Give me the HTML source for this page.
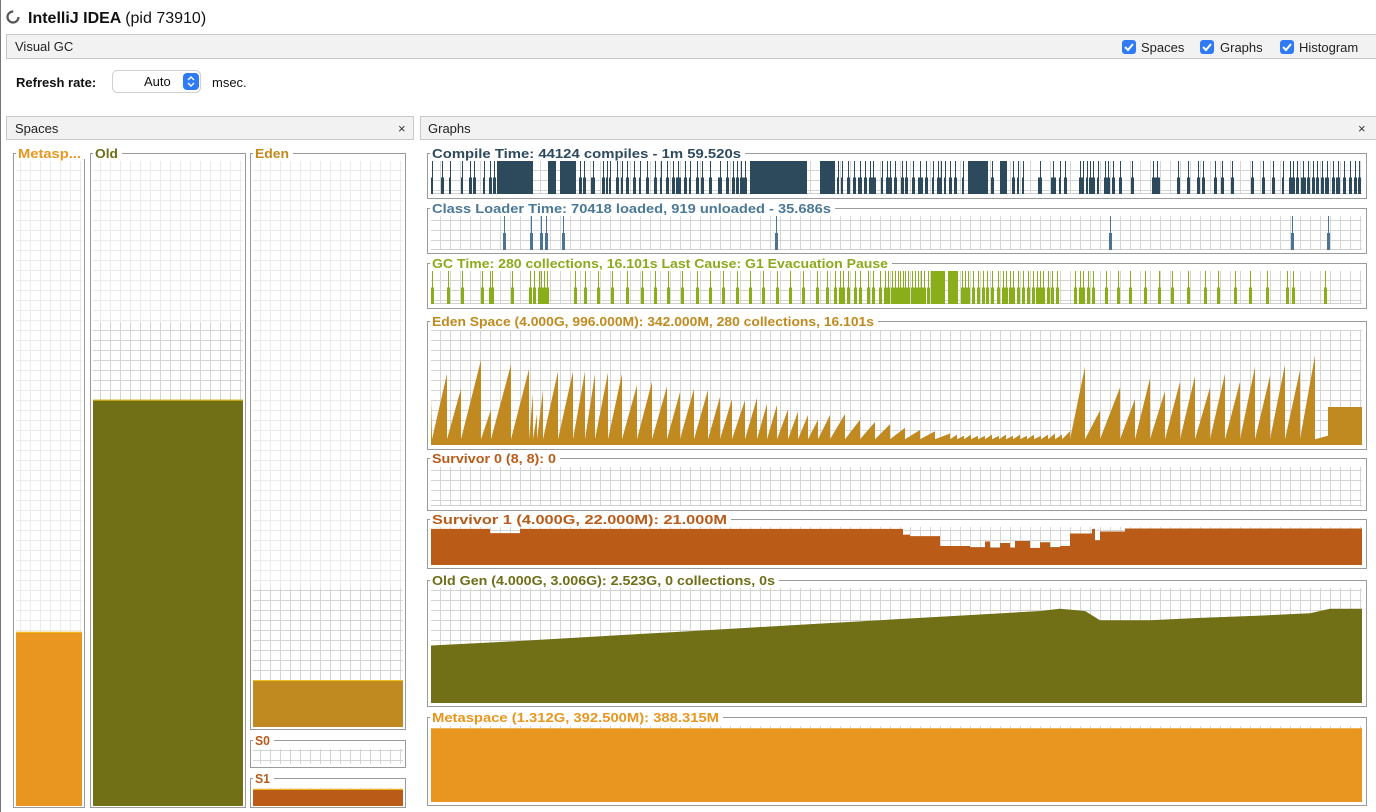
<!DOCTYPE html>
<html><head><meta charset="utf-8"><title>Visual GC</title>
<style>
html,body{margin:0;padding:0;background:#fff;width:1376px;height:812px;overflow:hidden}
svg{display:block}
text{font-family:"Liberation Sans",sans-serif}
</style></head>
<body>
<svg id="root" width="1376" height="812" viewBox="0 0 1376 812" xmlns="http://www.w3.org/2000/svg">
<defs>
<pattern id="grid" width="10" height="10" patternUnits="userSpaceOnUse" x="1" y="1">
<rect width="10" height="10" fill="#fff"/><rect x="9" y="0" width="1" height="10" fill="#d4d4d4"/><rect x="0" y="9" width="10" height="1" fill="#d4d4d4"/>
</pattern>
<pattern id="gridf" width="10" height="10" patternUnits="userSpaceOnUse" x="1" y="1">
<rect width="10" height="10" fill="#fff"/><rect x="9" y="0" width="1" height="10" fill="#ebebeb"/><rect x="0" y="9" width="10" height="1" fill="#ebebeb"/>
</pattern>
</defs>
<line x1="0.5" y1="0" x2="0.5" y2="812" stroke="#777"/>
<g>
<circle cx="13" cy="17" r="5.5" fill="none" stroke="#555" stroke-width="2.2" stroke-dasharray="26 9"/>
<text x="28" y="23" font-size="16" font-weight="bold" fill="#111">IntelliJ IDEA <tspan font-weight="normal">(pid 73910)</tspan></text>
</g>
<g>
<rect x="6.5" y="34.5" width="1370" height="24" fill="#f2f2f2" stroke="#c9c9c9"/>
<text x="15" y="51" font-size="13" fill="#222">Visual GC</text>
</g>
<g><rect x="1122" y="40" width="14" height="14" rx="3" fill="#2f7bf5"/><path d="M1125 47l3 3 5-6" stroke="#fff" stroke-width="2" fill="none"/><text x="1141" y="52" font-size="13" fill="#222">Spaces</text></g>
<g><rect x="1200" y="40" width="14" height="14" rx="3" fill="#2f7bf5"/><path d="M1203 47l3 3 5-6" stroke="#fff" stroke-width="2" fill="none"/><text x="1220" y="52" font-size="13" fill="#222">Graphs</text></g>
<g><rect x="1280" y="40" width="14" height="14" rx="3" fill="#2f7bf5"/><path d="M1283 47l3 3 5-6" stroke="#fff" stroke-width="2" fill="none"/><text x="1299" y="52" font-size="13" fill="#222">Histogram</text></g>
<text x="16" y="87" font-size="13" font-weight="bold" fill="#111">Refresh rate:</text>
<g>
<rect x="112.5" y="70.5" width="88" height="22" rx="5" fill="#fff" stroke="#d0d0d0"/>
<text x="144" y="86" font-size="13" fill="#111">Auto</text>
<rect x="183" y="73" width="16" height="17" rx="4" fill="#2f7bf5"/>
<path d="M188 80l3-3 3 3M188 83l3 3 3-3" stroke="#fff" stroke-width="1.4" fill="none"/>
</g>
<text x="212" y="87" font-size="13" fill="#111">msec.</text>
<g>
<rect x="6.5" y="116.5" width="407" height="23" fill="#f2f2f2" stroke="#c9c9c9"/>
<text x="15" y="133" font-size="13" fill="#222">Spaces</text>
<text x="398" y="133" font-size="13" fill="#333">×</text>
</g>
<g>
<rect x="420.5" y="116.5" width="956" height="23" fill="#f2f2f2" stroke="#c9c9c9"/>
<text x="428" y="133" font-size="13" fill="#222">Graphs</text>
<text x="1358" y="133" font-size="13" fill="#333">×</text>
</g>
<g id="panels"></g>
</svg>
<script>
// ---- data (x values are timeline samples in px-units along the graph, values are 0..1 fractions) ----
const compileX = [432,442,450,462,470,474,484,490,494,497,548,560,580,584,593,603,607,610,617,622,627,634,640,647,655,661,667,673,678,685,690,697,702,710,720,727,733,737,741,745,750,770,820,838,842,848,854,860,865,870,873,882,887,890,895,902,906,913,920,926,933,938,941,945,950,955,963,968,978,992,1000,1013,1018,1023,1040,1053,1060,1065,1080,1083,1087,1090,1093,1098,1105,1108,1113,1120,1132,1153,1157,1178,1188,1198,1203,1215,1222,1232,1252,1263,1273,1283,1290,1293,1297,1303,1308,1313,1317,1322,1327,1333,1338,1344,1350,1355,1359];
const compileW = [2,3,2,2,3,3,2,3,3,36,8,16,3,3,4,3,2,2,3,2,3,3,2,3,3,2,3,3,5,3,2,3,3,3,4,3,3,3,3,4,20,37,15,2,2,3,3,4,3,2,5,2,2,4,3,3,3,3,5,3,2,3,2,2,3,3,2,10,10,3,7,3,2,2,4,5,2,3,3,2,2,3,3,2,3,3,3,3,3,3,5,3,3,3,3,3,3,3,3,3,3,2,3,4,3,5,3,3,3,3,4,3,4,3,3,3,3];
const classX = [504,531,541,546,563,776,1110,1292,1328];
const gcX = [432,448,462,482,490,492,512,530,534,539,541,544,547,575,585,598,612,627,642,655,668,682,697,710,723,737,750,763,777,790,803,817,827,835,840,843,848,855,860,868,873,880,885,888,892,895,898,900,903,905,908,912,915,918,921,924,928,962,965,968,973,978,983,987,992,998,1003,1006,1010,1013,1018,1023,1028,1033,1037,1040,1043,1048,1052,1057,1075,1080,1083,1088,1093,1106,1118,1130,1145,1159,1172,1188,1205,1218,1235,1250,1267,1287,1293,1325];
const gcBlockStart = [931,948];
const gcBlockEnd = [945,958];
const edenEnd = [432,447,461,481,491,511,529,533,537,543,558,573,585,595,608,622,637,652,667,680,694,708,720,732,745,757,767,777,788,798,808,818,830,845,860,875,890,905,920,935,950,957,964,971,978,985,992,999,1006,1013,1020,1027,1034,1041,1048,1055,1062,1070,1085,1100,1120,1135,1150,1165,1180,1195,1210,1225,1240,1255,1270,1285,1300,1315,1328];
const edenPeak = [0.42,0.62,0.49,0.74,0.31,0.7,0.66,0.45,0.27,0.48,0.64,0.64,0.64,0.62,0.63,0.62,0.52,0.55,0.51,0.46,0.49,0.48,0.42,0.4,0.39,0.41,0.36,0.35,0.31,0.29,0.26,0.22,0.26,0.27,0.22,0.2,0.18,0.15,0.13,0.12,0.1,0.09,0.08,0.09,0.08,0.08,0.09,0.08,0.09,0.08,0.09,0.08,0.09,0.08,0.09,0.1,0.09,0.12,0.68,0.3,0.5,0.4,0.58,0.47,0.55,0.6,0.5,0.62,0.55,0.68,0.6,0.7,0.65,0.78,0.08];
const edenTailStart = 1328, edenTailValue = 0.33;
const s1X = [431,490,520,897,903,910,940,970,985,990,1000,1010,1015,1030,1040,1050,1060,1070,1092,1095,1100,1105,1125,1362];
const s1V = [0.95,0.84,0.95,0.95,0.8,0.76,0.5,0.47,0.62,0.46,0.58,0.46,0.63,0.45,0.6,0.47,0.5,0.83,0.95,0.65,0.88,0.88,0.96,0.96];
const oldX = [431,500,560,620,680,740,800,860,920,980,1040,1060,1085,1100,1150,1200,1260,1310,1330,1362];
const oldV = [0.5,0.53,0.56,0.59,0.62,0.65,0.68,0.71,0.74,0.77,0.8,0.82,0.8,0.72,0.72,0.74,0.76,0.78,0.82,0.82];
const metaGraphV = 0.97;
const spaceMetaUsed = 0.27, spaceOldUsed = 0.63, spaceOldCommitted = 0.75, spaceEdenUsed = 0.083, spaceEdenCommitted = 0.245, spaceS1Used = 0.95, spaceS0Used = 0;

const NS = "http://www.w3.org/2000/svg";
const root = document.getElementById('panels');
function mk(tag, attrs, parent){const e=document.createElementNS(NS,tag);for(const k in attrs)e.setAttribute(k,attrs[k]);(parent||root).appendChild(e);return e;}

function panel(name, title, color, bx, by, bw, bh, tw){
  const g = mk('g',{});
  
  
  mk('rect',{x:bx+0.5,y:by+0.5,width:bw,height:bh,fill:'#fff',stroke:'#9a9a9a'},g);
  mk('rect',{x:bx+3,y:by-6,width:tw+6,height:12,fill:'#fff'},g);
  const t = mk('text',{x:bx+5,y:by+5,'font-size':12.5,'font-weight':'bold',fill:color,textLength:tw,lengthAdjust:'spacingAndGlyphs'},g);
  t.textContent = title;
  
  
  return g;
}
function plotArea(g, x, y, w, h, pat){
  mk('rect',{x:x,y:y,width:w,height:h,fill:'url(#'+(pat||'grid')+')'},g);
  mk('rect',{x:x,y:y+h-1,width:w,height:1,fill:'#cfcfcf'},g);
}
function yScale(top,h){return v=>top+h-v*h;}

// Compile time
(function(){
  const g = panel('compile-time-graph','Compile Time: 44124 compiles - 1m 59.520s','#2e4a5e',427,153,939,45,309);
  const top=161,h=33; plotArea(g,431,top,931,h);
  const y=yScale(top,h);
  compileX.forEach((x,i)=>{
    const w=compileW[i];
    if(w>=6){const r=mk('rect',{x:x,y:y(1),width:w,height:h,fill:'#2d4a5c'},g);
      
      }
    else{
      const l=mk('rect',{x:x,y:y(1),width:1,height:h,fill:'#2d4a5c'},g);
      
      
      mk('rect',{x:x-Math.floor(w/2),y:y(0.5),width:w,height:h*0.5,fill:'#2d4a5c'},g);
    }
  });
})();
// Class loader
(function(){
  const g = panel('class-loader-graph','Class Loader Time: 70418 loaded, 919 unloaded - 35.686s','#4a7898',427,208,939,45,399);
  const top=216,h=34; plotArea(g,431,top,931,h);
  const y=yScale(top,h);
  classX.forEach(x=>{
    const l=mk('rect',{x:x,y:y(1),width:1,height:h,fill:'#4a7394'},g);
    
    
    mk('rect',{x:x-1,y:y(0.5),width:3,height:h*0.5,fill:'#4a7394'},g);
  });
})();
// GC time
(function(){
  const g = panel('gc-time-graph','GC Time: 280 collections, 16.101s  Last Cause: G1 Evacuation Pause','#8aaa1c',427,263,939,45,456);
  const top=271,h=33; plotArea(g,431,top,931,h);
  const y=yScale(top,h);
  gcX.forEach(x=>{
    const l=mk('rect',{x:x,y:y(1),width:1,height:h,fill:'#8aae1a'},g);
    
    
    mk('rect',{x:x-1,y:y(0.5),width:3,height:h*0.5,fill:'#8aae1a'},g);
  });
  gcBlockStart.forEach((s,i)=>{
    const r=mk('rect',{x:s,y:y(1),width:gcBlockEnd[i]-s,height:h,fill:'#8aae1a'},g);
    
    
  });
})();
// Eden
(function(){
  const g = panel('eden-space-graph','Eden Space (4.000G, 996.000M): 342.000M, 280 collections, 16.101s','#c08a1e',427,321,939,128,442);
  const top=330,h=115; plotArea(g,431,top,931,h);
  const y=yScale(top,h);
  let d='M431 '+y(0); let prev=431;
  edenEnd.forEach((e,i)=>{ d+=' L'+prev+' '+y(0.05)+' L'+e+' '+y(edenPeak[i])+' L'+e+' '+y(0.03); prev=e; });
  d+=' L'+edenTailStart+' '+y(edenTailValue)+' L1362 '+y(edenTailValue)+' L1362 '+y(0)+' Z';
  const p=mk('path',{d:d,fill:'#c18a20'},g);
  
  
})();
// Survivor 0
(function(){
  const g = panel('survivor-0-graph','Survivor 0 (8, 8): 0','#b85a18',427,458,939,52,124);
  plotArea(g,431,467,931,39);
})();
// Survivor 1
(function(){
  const g = panel('survivor-1-graph','Survivor 1 (4.000G, 22.000M): 21.000M','#b85a18',427,519,939,49,295);
  const top=527,h=38; plotArea(g,431,top,931,h);
  const y=yScale(top,h);
  let d='M431 '+y(0);
  s1X.forEach((x,i)=>{ if(i>0) d+=' L'+x+' '+y(s1V[i-1]); d+=' L'+x+' '+y(s1V[i]); });
  d+=' L1362 '+y(0)+' Z';
  const p=mk('path',{d:d,fill:'#ba5b17'},g);
  
  
})();
// Old gen
(function(){
  const g = panel('old-gen-graph','Old Gen (4.000G, 3.006G): 2.523G, 0 collections, 0s','#6e6e18',427,580,939,126,343);
  const top=588,h=115; plotArea(g,431,top,931,h);
  const y=yScale(top,h);
  let d='M431 '+y(0);
  oldX.forEach((x,i)=>{ d+=' L'+x+' '+y(oldV[i]); });
  d+=' L1362 '+y(0)+' Z';
  const p=mk('path',{d:d,fill:'#717016'},g);
  
  
})();
// Metaspace graph
(function(){
  const g = panel('metaspace-graph','Metaspace (1.312G, 392.500M): 388.315M','#e8961e',427,717,939,88,287);
  const top=726,h=76; plotArea(g,431,top,931,h);
  const y=yScale(top,h);
  const r=mk('rect',{x:431,y:y(metaGraphV),width:931,height:metaGraphV*h,fill:'#e99621'},g);
  
  
})();

// Spaces bars
function spaceBar(name,title,color,fill,bx,by,bw,bh,tw,px,py,pw,ph,used,committed){
  const g = panel(name,title,color,bx,by,bw,bh,tw);
  const cy = py+ph-committed*ph;
  mk('rect',{x:px,y:py,width:pw,height:ph,fill:'url(#gridf)'},g);
  if(committed>0) mk('rect',{x:px,y:cy,width:pw,height:ph-(cy-py),fill:'url(#grid)'},g);
  if(used>0){
    const r=mk('rect',{x:px,y:py+ph-used*ph,width:pw,height:used*ph,fill:fill},g);
    
    
    mk('rect',{x:px,y:py+ph-used*ph,width:pw,height:1,fill:'#f0c020'},g);
  }
}
spaceBar('metaspace-space','Metasp...','#e8961e','#e99621',13,153,71,654,63,16,161,66,645,spaceMetaUsed,0);
spaceBar('old-space','Old','#6e6e18','#717016',90,153,155,654,23,93,161,150,645,spaceOldUsed,spaceOldCommitted);
spaceBar('eden-space','Eden','#c08a1e','#c18a20',250,153,155,576,34,253,161,150,566,spaceEdenUsed,spaceEdenCommitted);
spaceBar('s0-space','S0','#b85a18','#ba5b17',250,740,155,27,15,253,749,150,15,spaceS0Used,1);
spaceBar('s1-space','S1','#b85a18','#ba5b17',250,778,155,29,15,253,788,150,18,spaceS1Used,1);
</script>
</body></html>
